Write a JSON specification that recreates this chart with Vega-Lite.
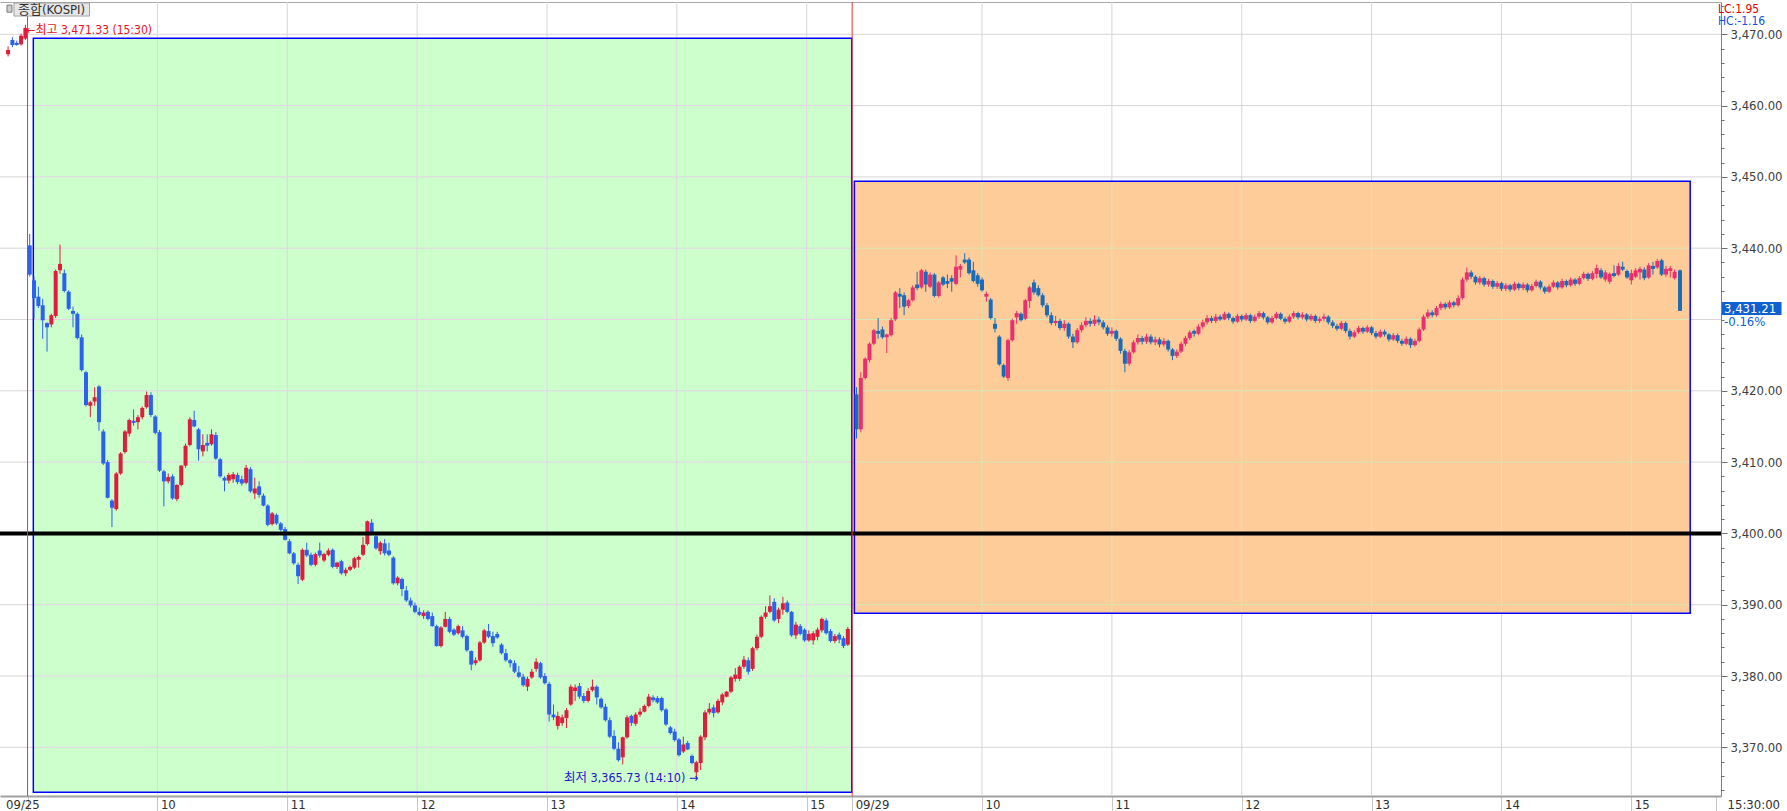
{
  "$schema": "https://vega.github.io/schema/vega-lite/v6.json",
  "width": 1721,
  "height": 794,
  "autosize": {"type": "none"},
  "padding": {"left": 0, "top": 2, "right": 66, "bottom": 15},
  "background": "#ffffff",
  "config": {"view": {"stroke": null}},
  "datasets": {
    "candles": [
      {"t":-9,"o":3467.2,"h":3468.3,"l":3466.9,"c":3467.8},
      {"t":-7,"o":3469.2,"h":3469.6,"l":3468.2,"c":3468.5},
      {"t":-5,"o":3468.8,"h":3469.1,"l":3468.4,"c":3468.5},
      {"t":-3,"o":3468.6,"h":3470.1,"l":3468.4,"c":3469.8},
      {"t":-1,"o":3469.4,"h":3471.33,"l":3469.2,"c":3470.9},
      {"t":1,"o":3440.4,"h":3442.0,"l":3436.0,"c":3436.3},
      {"t":3,"o":3435.5,"h":3436.0,"l":3430.1,"c":3433.0},
      {"t":5,"o":3433.2,"h":3434.6,"l":3431.6,"c":3431.9},
      {"t":7,"o":3432.0,"h":3432.9,"l":3427.3,"c":3429.9},
      {"t":9,"o":3429.5,"h":3429.6,"l":3425.5,"c":3428.9},
      {"t":11,"o":3429.3,"h":3430.8,"l":3428.9,"c":3430.6},
      {"t":13,"o":3430.5,"h":3437.0,"l":3430.2,"c":3436.8},
      {"t":15,"o":3436.9,"h":3440.5,"l":3436.4,"c":3437.8},
      {"t":17,"o":3436.5,"h":3437.0,"l":3433.8,"c":3434.0},
      {"t":19,"o":3433.9,"h":3434.1,"l":3431.3,"c":3431.5},
      {"t":21,"o":3431.2,"h":3431.8,"l":3428.9,"c":3430.8},
      {"t":23,"o":3430.8,"h":3431.0,"l":3427.2,"c":3427.4},
      {"t":25,"o":3427.5,"h":3427.9,"l":3422.7,"c":3422.9},
      {"t":27,"o":3422.6,"h":3422.8,"l":3417.8,"c":3418.0},
      {"t":29,"o":3417.9,"h":3418.6,"l":3416.3,"c":3418.4},
      {"t":31,"o":3418.5,"h":3420.5,"l":3417.9,"c":3419.1},
      {"t":33,"o":3420.6,"h":3420.8,"l":3414.4,"c":3415.6},
      {"t":35,"o":3414.3,"h":3414.6,"l":3409.6,"c":3409.8},
      {"t":37,"o":3410.0,"h":3410.3,"l":3404.9,"c":3405.0},
      {"t":39,"o":3404.6,"h":3404.8,"l":3400.9,"c":3403.6},
      {"t":41,"o":3403.4,"h":3408.6,"l":3403.2,"c":3408.4},
      {"t":43,"o":3408.4,"h":3411.4,"l":3408.2,"c":3411.2},
      {"t":45,"o":3411.4,"h":3414.5,"l":3411.2,"c":3414.3},
      {"t":47,"o":3414.0,"h":3416.1,"l":3413.6,"c":3415.9},
      {"t":49,"o":3415.8,"h":3417.4,"l":3415.1,"c":3415.5},
      {"t":51,"o":3415.6,"h":3416.6,"l":3414.6,"c":3416.3},
      {"t":53,"o":3416.3,"h":3417.8,"l":3416.0,"c":3417.6},
      {"t":55,"o":3417.7,"h":3419.9,"l":3417.5,"c":3419.4},
      {"t":57,"o":3419.4,"h":3419.8,"l":3416.3,"c":3416.6},
      {"t":59,"o":3416.4,"h":3416.6,"l":3413.9,"c":3414.1},
      {"t":61,"o":3414.2,"h":3414.5,"l":3408.6,"c":3408.8},
      {"t":63,"o":3408.7,"h":3408.9,"l":3403.8,"c":3407.3},
      {"t":65,"o":3407.3,"h":3408.4,"l":3407.0,"c":3407.9},
      {"t":67,"o":3408.0,"h":3408.3,"l":3404.7,"c":3404.9},
      {"t":69,"o":3404.8,"h":3406.9,"l":3404.5,"c":3406.8},
      {"t":71,"o":3406.8,"h":3409.6,"l":3406.6,"c":3409.5},
      {"t":73,"o":3409.5,"h":3412.6,"l":3409.2,"c":3412.3},
      {"t":75,"o":3412.4,"h":3416.3,"l":3412.2,"c":3416.0},
      {"t":77,"o":3415.9,"h":3417.2,"l":3414.9,"c":3415.0},
      {"t":79,"o":3414.6,"h":3414.8,"l":3410.2,"c":3411.8},
      {"t":81,"o":3411.5,"h":3413.9,"l":3410.8,"c":3412.4},
      {"t":83,"o":3412.7,"h":3413.9,"l":3411.5,"c":3412.3},
      {"t":85,"o":3412.5,"h":3414.6,"l":3412.3,"c":3413.9},
      {"t":87,"o":3413.8,"h":3414.2,"l":3410.3,"c":3410.5},
      {"t":89,"o":3410.4,"h":3410.6,"l":3407.8,"c":3408.0},
      {"t":91,"o":3407.8,"h":3408.0,"l":3405.9,"c":3407.4},
      {"t":93,"o":3407.4,"h":3408.5,"l":3407.0,"c":3408.2},
      {"t":95,"o":3407.6,"h":3408.6,"l":3407.1,"c":3408.3},
      {"t":97,"o":3408.2,"h":3408.5,"l":3406.9,"c":3407.2},
      {"t":99,"o":3407.6,"h":3408.1,"l":3406.7,"c":3407.0},
      {"t":101,"o":3407.1,"h":3409.6,"l":3406.9,"c":3409.2},
      {"t":103,"o":3409.0,"h":3409.3,"l":3405.7,"c":3405.9},
      {"t":105,"o":3405.6,"h":3407.8,"l":3404.8,"c":3406.3},
      {"t":107,"o":3406.6,"h":3407.3,"l":3405.0,"c":3405.4},
      {"t":109,"o":3405.3,"h":3405.6,"l":3403.8,"c":3403.9},
      {"t":111,"o":3403.9,"h":3404.1,"l":3401.0,"c":3401.2},
      {"t":113,"o":3401.3,"h":3403.0,"l":3401.1,"c":3402.8},
      {"t":115,"o":3402.6,"h":3402.8,"l":3401.2,"c":3401.4},
      {"t":117,"o":3401.4,"h":3401.6,"l":3400.3,"c":3400.5},
      {"t":119,"o":3400.6,"h":3400.9,"l":3399.0,"c":3399.1},
      {"t":121,"o":3398.9,"h":3399.2,"l":3397.1,"c":3397.2},
      {"t":123,"o":3397.2,"h":3397.4,"l":3395.6,"c":3395.8},
      {"t":125,"o":3395.6,"h":3395.9,"l":3392.9,"c":3394.0},
      {"t":127,"o":3393.5,"h":3397.9,"l":3393.3,"c":3397.7},
      {"t":129,"o":3397.7,"h":3398.7,"l":3396.7,"c":3396.9},
      {"t":131,"o":3397.0,"h":3397.3,"l":3395.4,"c":3395.6},
      {"t":133,"o":3395.6,"h":3397.3,"l":3395.4,"c":3397.1},
      {"t":135,"o":3397.6,"h":3398.7,"l":3396.6,"c":3396.9},
      {"t":137,"o":3396.2,"h":3397.3,"l":3396.0,"c":3397.1},
      {"t":139,"o":3397.0,"h":3397.9,"l":3396.8,"c":3397.6},
      {"t":141,"o":3397.7,"h":3397.9,"l":3395.1,"c":3395.3},
      {"t":143,"o":3395.3,"h":3396.0,"l":3395.0,"c":3395.9},
      {"t":145,"o":3396.1,"h":3396.3,"l":3394.2,"c":3394.4},
      {"t":147,"o":3394.4,"h":3395.2,"l":3394.0,"c":3394.9},
      {"t":149,"o":3394.9,"h":3395.5,"l":3394.7,"c":3395.3},
      {"t":151,"o":3395.2,"h":3396.7,"l":3395.0,"c":3396.5},
      {"t":153,"o":3396.3,"h":3396.9,"l":3395.2,"c":3396.7},
      {"t":155,"o":3397.0,"h":3399.5,"l":3396.8,"c":3398.4},
      {"t":157,"o":3398.5,"h":3401.8,"l":3398.3,"c":3401.7},
      {"t":159,"o":3401.5,"h":3402.0,"l":3399.8,"c":3400.0},
      {"t":161,"o":3399.6,"h":3399.8,"l":3397.7,"c":3397.9},
      {"t":163,"o":3397.5,"h":3398.9,"l":3397.0,"c":3398.7},
      {"t":165,"o":3398.6,"h":3399.2,"l":3396.9,"c":3397.2},
      {"t":167,"o":3397.6,"h":3398.7,"l":3396.8,"c":3397.0},
      {"t":169,"o":3396.6,"h":3396.8,"l":3392.8,"c":3393.0},
      {"t":171,"o":3393.0,"h":3394.0,"l":3392.7,"c":3393.8},
      {"t":173,"o":3393.6,"h":3393.8,"l":3391.2,"c":3392.2},
      {"t":175,"o":3392.0,"h":3392.6,"l":3390.4,"c":3390.6},
      {"t":177,"o":3390.6,"h":3391.0,"l":3389.6,"c":3389.9},
      {"t":179,"o":3389.9,"h":3390.3,"l":3388.8,"c":3389.0},
      {"t":181,"o":3389.0,"h":3389.6,"l":3388.4,"c":3388.6},
      {"t":183,"o":3388.4,"h":3389.2,"l":3388.0,"c":3388.9},
      {"t":185,"o":3389.0,"h":3389.2,"l":3387.8,"c":3388.0},
      {"t":187,"o":3388.4,"h":3388.9,"l":3386.9,"c":3387.0},
      {"t":189,"o":3387.0,"h":3387.2,"l":3384.1,"c":3384.2},
      {"t":191,"o":3384.2,"h":3387.0,"l":3384.0,"c":3386.8},
      {"t":193,"o":3386.9,"h":3389.0,"l":3386.8,"c":3388.0},
      {"t":195,"o":3388.0,"h":3388.3,"l":3386.0,"c":3386.2},
      {"t":197,"o":3386.5,"h":3386.7,"l":3385.6,"c":3385.8},
      {"t":199,"o":3386.0,"h":3387.2,"l":3385.8,"c":3387.0},
      {"t":201,"o":3386.4,"h":3387.0,"l":3385.3,"c":3385.5},
      {"t":203,"o":3385.6,"h":3385.8,"l":3383.4,"c":3383.6},
      {"t":205,"o":3383.5,"h":3383.6,"l":3380.8,"c":3381.6},
      {"t":207,"o":3381.8,"h":3382.6,"l":3381.5,"c":3382.2},
      {"t":209,"o":3382.2,"h":3384.9,"l":3382.0,"c":3384.7},
      {"t":211,"o":3384.7,"h":3386.6,"l":3384.5,"c":3386.4},
      {"t":213,"o":3386.3,"h":3387.3,"l":3385.3,"c":3385.5},
      {"t":215,"o":3385.6,"h":3386.2,"l":3384.1,"c":3384.6},
      {"t":217,"o":3385.9,"h":3386.2,"l":3385.2,"c":3385.4},
      {"t":219,"o":3384.4,"h":3384.6,"l":3383.0,"c":3383.2},
      {"t":221,"o":3383.2,"h":3383.8,"l":3382.0,"c":3382.2},
      {"t":223,"o":3382.2,"h":3382.4,"l":3381.2,"c":3381.8},
      {"t":225,"o":3381.8,"h":3382.2,"l":3380.4,"c":3380.6},
      {"t":227,"o":3380.5,"h":3381.4,"l":3379.7,"c":3379.9},
      {"t":229,"o":3379.9,"h":3380.3,"l":3378.5,"c":3378.7},
      {"t":231,"o":3378.5,"h":3379.9,"l":3377.9,"c":3379.6},
      {"t":233,"o":3379.8,"h":3381.0,"l":3379.6,"c":3380.6},
      {"t":235,"o":3381.0,"h":3382.5,"l":3380.6,"c":3382.0},
      {"t":237,"o":3381.8,"h":3382.0,"l":3379.6,"c":3379.8},
      {"t":239,"o":3380.0,"h":3380.4,"l":3378.8,"c":3379.0},
      {"t":241,"o":3378.9,"h":3379.2,"l":3373.6,"c":3374.6},
      {"t":243,"o":3374.6,"h":3376.0,"l":3373.8,"c":3374.2},
      {"t":245,"o":3373.0,"h":3375.0,"l":3372.5,"c":3374.4},
      {"t":247,"o":3373.4,"h":3374.6,"l":3373.0,"c":3374.2},
      {"t":249,"o":3374.1,"h":3375.5,"l":3372.7,"c":3375.2},
      {"t":251,"o":3376.0,"h":3378.8,"l":3375.8,"c":3378.5},
      {"t":253,"o":3377.9,"h":3378.8,"l":3376.5,"c":3378.4},
      {"t":255,"o":3378.6,"h":3379.0,"l":3376.8,"c":3377.1},
      {"t":257,"o":3377.2,"h":3377.6,"l":3376.2,"c":3376.5},
      {"t":259,"o":3376.5,"h":3378.3,"l":3376.3,"c":3377.9},
      {"t":261,"o":3378.0,"h":3379.5,"l":3377.8,"c":3378.5},
      {"t":263,"o":3378.5,"h":3378.7,"l":3376.0,"c":3377.0},
      {"t":265,"o":3376.8,"h":3377.0,"l":3375.4,"c":3375.6},
      {"t":267,"o":3375.7,"h":3376.1,"l":3373.6,"c":3373.8},
      {"t":269,"o":3373.8,"h":3374.2,"l":3371.3,"c":3371.5},
      {"t":271,"o":3371.6,"h":3372.4,"l":3369.6,"c":3369.8},
      {"t":273,"o":3369.8,"h":3370.7,"l":3368.0,"c":3368.2},
      {"t":275,"o":3368.6,"h":3371.5,"l":3367.6,"c":3371.4},
      {"t":277,"o":3371.4,"h":3374.5,"l":3371.2,"c":3374.2},
      {"t":279,"o":3374.4,"h":3374.6,"l":3373.0,"c":3373.4},
      {"t":281,"o":3373.3,"h":3374.9,"l":3373.0,"c":3374.6},
      {"t":283,"o":3374.6,"h":3375.5,"l":3374.3,"c":3375.0},
      {"t":285,"o":3375.0,"h":3376.0,"l":3374.9,"c":3375.8},
      {"t":287,"o":3375.8,"h":3377.5,"l":3375.6,"c":3377.1},
      {"t":289,"o":3377.0,"h":3377.3,"l":3376.3,"c":3376.6},
      {"t":291,"o":3376.9,"h":3377.2,"l":3376.1,"c":3376.3},
      {"t":293,"o":3376.9,"h":3377.1,"l":3375.0,"c":3375.2},
      {"t":295,"o":3375.3,"h":3375.5,"l":3373.0,"c":3373.2},
      {"t":297,"o":3372.8,"h":3373.0,"l":3371.8,"c":3372.0},
      {"t":299,"o":3372.2,"h":3372.6,"l":3370.8,"c":3371.0},
      {"t":301,"o":3371.1,"h":3371.3,"l":3368.7,"c":3368.9},
      {"t":303,"o":3369.4,"h":3371.5,"l":3369.2,"c":3370.4},
      {"t":305,"o":3370.6,"h":3370.9,"l":3369.6,"c":3369.7},
      {"t":307,"o":3368.8,"h":3369.0,"l":3367.6,"c":3367.8},
      {"t":309,"o":3366.5,"h":3368.1,"l":3365.73,"c":3367.9},
      {"t":311,"o":3367.8,"h":3371.7,"l":3366.8,"c":3371.5},
      {"t":313,"o":3371.4,"h":3375.2,"l":3371.0,"c":3374.9},
      {"t":315,"o":3374.9,"h":3376.2,"l":3374.6,"c":3375.4},
      {"t":317,"o":3375.6,"h":3376.0,"l":3374.2,"c":3374.8},
      {"t":319,"o":3374.9,"h":3376.8,"l":3374.7,"c":3376.5},
      {"t":321,"o":3376.3,"h":3377.6,"l":3375.9,"c":3377.4},
      {"t":323,"o":3377.1,"h":3377.9,"l":3377.0,"c":3377.8},
      {"t":325,"o":3377.8,"h":3380.0,"l":3377.6,"c":3379.8},
      {"t":327,"o":3379.6,"h":3381.1,"l":3379.2,"c":3380.2},
      {"t":329,"o":3379.6,"h":3381.5,"l":3379.3,"c":3381.3},
      {"t":331,"o":3381.3,"h":3382.8,"l":3381.0,"c":3382.3},
      {"t":333,"o":3382.2,"h":3382.6,"l":3380.2,"c":3380.6},
      {"t":335,"o":3381.0,"h":3384.1,"l":3380.7,"c":3383.9},
      {"t":337,"o":3383.9,"h":3385.8,"l":3383.6,"c":3385.5},
      {"t":339,"o":3385.5,"h":3388.5,"l":3385.3,"c":3388.3},
      {"t":341,"o":3388.3,"h":3389.8,"l":3388.0,"c":3388.9},
      {"t":343,"o":3389.0,"h":3391.3,"l":3388.8,"c":3389.8},
      {"t":345,"o":3390.4,"h":3390.9,"l":3387.6,"c":3387.8},
      {"t":347,"o":3388.0,"h":3389.6,"l":3387.4,"c":3389.3},
      {"t":349,"o":3389.3,"h":3391.1,"l":3388.6,"c":3390.2},
      {"t":351,"o":3390.3,"h":3390.6,"l":3388.8,"c":3389.0},
      {"t":353,"o":3389.0,"h":3389.1,"l":3385.5,"c":3385.7},
      {"t":355,"o":3385.7,"h":3387.6,"l":3385.2,"c":3387.2},
      {"t":357,"o":3387.0,"h":3387.3,"l":3385.7,"c":3385.9},
      {"t":359,"o":3386.5,"h":3386.7,"l":3384.8,"c":3385.0},
      {"t":361,"o":3385.0,"h":3386.4,"l":3384.8,"c":3385.9},
      {"t":363,"o":3385.0,"h":3386.3,"l":3384.4,"c":3386.0},
      {"t":365,"o":3385.5,"h":3386.8,"l":3385.0,"c":3386.5},
      {"t":367,"o":3386.4,"h":3388.2,"l":3386.1,"c":3388.0},
      {"t":369,"o":3387.8,"h":3388.1,"l":3385.8,"c":3386.0},
      {"t":371,"o":3386.3,"h":3386.6,"l":3384.7,"c":3384.9},
      {"t":373,"o":3384.9,"h":3385.9,"l":3384.6,"c":3385.6},
      {"t":375,"o":3385.8,"h":3386.1,"l":3384.6,"c":3385.1},
      {"t":377,"o":3385.3,"h":3385.6,"l":3383.9,"c":3384.2},
      {"t":379,"o":3384.4,"h":3386.9,"l":3384.2,"c":3386.6},
      {"t":383,"o":3419.5,"h":3420.5,"l":3413.3,"c":3414.6},
      {"t":385,"o":3414.6,"h":3422.6,"l":3414.2,"c":3421.8},
      {"t":387,"o":3421.8,"h":3424.7,"l":3421.6,"c":3424.5},
      {"t":389,"o":3424.3,"h":3426.8,"l":3424.0,"c":3426.6},
      {"t":391,"o":3426.6,"h":3428.7,"l":3426.4,"c":3428.5},
      {"t":393,"o":3428.4,"h":3430.2,"l":3427.3,"c":3428.0},
      {"t":395,"o":3428.6,"h":3429.0,"l":3427.3,"c":3427.5},
      {"t":397,"o":3427.5,"h":3428.0,"l":3425.3,"c":3427.9},
      {"t":399,"o":3427.8,"h":3430.2,"l":3427.6,"c":3429.9},
      {"t":401,"o":3430.0,"h":3434.0,"l":3429.8,"c":3433.8},
      {"t":403,"o":3433.6,"h":3434.4,"l":3431.6,"c":3433.2},
      {"t":405,"o":3433.4,"h":3433.8,"l":3430.6,"c":3431.8},
      {"t":407,"o":3431.9,"h":3432.9,"l":3431.6,"c":3432.7},
      {"t":409,"o":3432.7,"h":3434.8,"l":3432.5,"c":3434.5},
      {"t":411,"o":3434.9,"h":3436.7,"l":3434.1,"c":3434.4},
      {"t":413,"o":3434.5,"h":3437.1,"l":3434.3,"c":3436.9},
      {"t":415,"o":3436.7,"h":3437.0,"l":3433.9,"c":3434.9},
      {"t":417,"o":3434.6,"h":3436.6,"l":3434.4,"c":3436.3},
      {"t":419,"o":3436.3,"h":3436.5,"l":3433.1,"c":3433.3},
      {"t":421,"o":3433.3,"h":3435.4,"l":3433.1,"c":3435.2},
      {"t":423,"o":3435.9,"h":3436.1,"l":3434.7,"c":3434.9},
      {"t":425,"o":3435.4,"h":3436.3,"l":3434.4,"c":3435.0},
      {"t":427,"o":3435.8,"h":3436.2,"l":3433.9,"c":3435.3},
      {"t":429,"o":3435.0,"h":3439.0,"l":3434.8,"c":3437.4},
      {"t":431,"o":3437.0,"h":3437.8,"l":3435.9,"c":3437.5},
      {"t":433,"o":3438.4,"h":3439.3,"l":3437.8,"c":3438.0},
      {"t":435,"o":3438.4,"h":3438.7,"l":3436.3,"c":3436.5},
      {"t":437,"o":3436.9,"h":3438.1,"l":3435.2,"c":3435.4},
      {"t":439,"o":3436.2,"h":3436.5,"l":3434.6,"c":3435.0},
      {"t":441,"o":3435.6,"h":3435.9,"l":3433.9,"c":3434.1},
      {"t":443,"o":3433.2,"h":3433.9,"l":3432.5,"c":3433.6},
      {"t":445,"o":3432.8,"h":3433.0,"l":3430.0,"c":3430.2},
      {"t":447,"o":3429.4,"h":3430.2,"l":3428.2,"c":3428.7},
      {"t":449,"o":3427.6,"h":3427.8,"l":3423.5,"c":3423.7},
      {"t":451,"o":3423.6,"h":3423.8,"l":3421.8,"c":3422.0},
      {"t":453,"o":3421.8,"h":3427.3,"l":3421.4,"c":3427.1},
      {"t":455,"o":3427.1,"h":3430.1,"l":3426.9,"c":3429.9},
      {"t":457,"o":3430.3,"h":3431.2,"l":3429.4,"c":3430.9},
      {"t":459,"o":3430.8,"h":3431.0,"l":3429.7,"c":3429.9},
      {"t":461,"o":3430.1,"h":3432.9,"l":3429.9,"c":3432.7},
      {"t":463,"o":3432.6,"h":3434.7,"l":3431.6,"c":3434.5},
      {"t":465,"o":3435.2,"h":3435.6,"l":3433.5,"c":3433.8},
      {"t":467,"o":3434.4,"h":3434.8,"l":3433.2,"c":3433.4},
      {"t":469,"o":3433.4,"h":3433.7,"l":3431.7,"c":3432.0},
      {"t":471,"o":3432.0,"h":3432.3,"l":3430.3,"c":3430.6},
      {"t":473,"o":3430.6,"h":3431.0,"l":3429.2,"c":3429.5},
      {"t":475,"o":3429.5,"h":3430.5,"l":3429.1,"c":3429.8},
      {"t":477,"o":3429.8,"h":3430.1,"l":3428.5,"c":3428.8},
      {"t":479,"o":3428.8,"h":3429.9,"l":3428.4,"c":3429.4},
      {"t":481,"o":3429.4,"h":3429.6,"l":3427.3,"c":3427.6},
      {"t":483,"o":3427.6,"h":3428.0,"l":3426.0,"c":3426.8},
      {"t":485,"o":3426.8,"h":3428.8,"l":3426.6,"c":3428.5},
      {"t":487,"o":3428.5,"h":3429.6,"l":3428.2,"c":3429.2},
      {"t":489,"o":3429.2,"h":3430.3,"l":3428.9,"c":3429.8},
      {"t":491,"o":3429.8,"h":3430.2,"l":3429.0,"c":3429.4},
      {"t":493,"o":3429.4,"h":3430.6,"l":3429.1,"c":3430.0},
      {"t":495,"o":3430.0,"h":3430.4,"l":3429.2,"c":3429.6},
      {"t":497,"o":3429.6,"h":3429.9,"l":3428.6,"c":3428.9},
      {"t":499,"o":3428.9,"h":3429.2,"l":3427.7,"c":3428.0},
      {"t":501,"o":3428.0,"h":3428.9,"l":3427.6,"c":3428.4},
      {"t":503,"o":3428.4,"h":3428.6,"l":3427.0,"c":3427.3},
      {"t":505,"o":3427.3,"h":3427.5,"l":3425.2,"c":3425.6},
      {"t":507,"o":3425.6,"h":3425.9,"l":3422.6,"c":3423.8},
      {"t":509,"o":3423.8,"h":3425.7,"l":3423.5,"c":3425.4},
      {"t":511,"o":3425.4,"h":3427.1,"l":3425.2,"c":3426.8},
      {"t":513,"o":3426.8,"h":3427.9,"l":3426.5,"c":3427.4},
      {"t":515,"o":3427.4,"h":3427.7,"l":3426.5,"c":3426.9},
      {"t":517,"o":3426.9,"h":3428.0,"l":3426.6,"c":3427.6},
      {"t":519,"o":3427.6,"h":3427.9,"l":3426.5,"c":3426.8},
      {"t":521,"o":3426.8,"h":3427.6,"l":3426.4,"c":3427.2},
      {"t":523,"o":3427.2,"h":3427.5,"l":3426.1,"c":3426.5},
      {"t":525,"o":3426.5,"h":3427.4,"l":3426.2,"c":3427.0},
      {"t":527,"o":3427.0,"h":3427.2,"l":3425.5,"c":3425.8},
      {"t":529,"o":3425.8,"h":3426.0,"l":3424.3,"c":3424.9},
      {"t":531,"o":3424.9,"h":3425.8,"l":3424.6,"c":3425.5},
      {"t":533,"o":3425.5,"h":3426.9,"l":3425.3,"c":3426.6},
      {"t":535,"o":3426.6,"h":3427.7,"l":3426.3,"c":3427.4},
      {"t":537,"o":3427.4,"h":3428.5,"l":3427.1,"c":3428.2},
      {"t":539,"o":3428.4,"h":3428.6,"l":3427.6,"c":3428.0},
      {"t":541,"o":3428.0,"h":3429.3,"l":3427.8,"c":3429.0},
      {"t":543,"o":3429.0,"h":3430.0,"l":3428.7,"c":3429.6},
      {"t":545,"o":3429.6,"h":3430.6,"l":3429.3,"c":3430.2},
      {"t":547,"o":3430.2,"h":3430.5,"l":3429.5,"c":3429.8},
      {"t":549,"o":3429.8,"h":3430.8,"l":3429.5,"c":3430.4},
      {"t":551,"o":3430.4,"h":3430.7,"l":3429.8,"c":3430.0},
      {"t":553,"o":3430.0,"h":3431.1,"l":3429.9,"c":3430.8},
      {"t":555,"o":3430.8,"h":3431.0,"l":3429.9,"c":3430.2},
      {"t":557,"o":3430.2,"h":3430.4,"l":3429.4,"c":3429.7},
      {"t":559,"o":3429.7,"h":3430.8,"l":3429.5,"c":3430.5},
      {"t":561,"o":3430.5,"h":3430.7,"l":3429.7,"c":3430.0},
      {"t":563,"o":3430.0,"h":3430.9,"l":3429.8,"c":3430.6},
      {"t":565,"o":3430.6,"h":3430.8,"l":3429.5,"c":3429.8},
      {"t":567,"o":3429.8,"h":3430.7,"l":3429.6,"c":3430.4},
      {"t":569,"o":3430.4,"h":3431.2,"l":3430.1,"c":3430.9},
      {"t":571,"o":3430.9,"h":3431.1,"l":3430.0,"c":3430.3},
      {"t":573,"o":3430.3,"h":3430.5,"l":3429.3,"c":3429.6},
      {"t":575,"o":3429.6,"h":3430.5,"l":3429.4,"c":3430.2},
      {"t":577,"o":3430.2,"h":3431.1,"l":3430.0,"c":3430.8},
      {"t":579,"o":3430.8,"h":3431.0,"l":3429.9,"c":3430.1},
      {"t":581,"o":3430.1,"h":3430.4,"l":3429.4,"c":3429.7},
      {"t":583,"o":3429.7,"h":3430.7,"l":3429.5,"c":3430.4},
      {"t":585,"o":3430.4,"h":3431.2,"l":3430.1,"c":3430.9},
      {"t":587,"o":3430.9,"h":3431.1,"l":3430.0,"c":3430.3},
      {"t":589,"o":3430.3,"h":3431.0,"l":3430.0,"c":3430.7},
      {"t":591,"o":3430.7,"h":3430.9,"l":3429.7,"c":3430.0},
      {"t":593,"o":3430.0,"h":3430.8,"l":3429.8,"c":3430.5},
      {"t":595,"o":3430.5,"h":3430.7,"l":3429.5,"c":3429.8},
      {"t":597,"o":3429.8,"h":3430.4,"l":3429.5,"c":3430.1},
      {"t":599,"o":3430.1,"h":3430.8,"l":3429.8,"c":3430.4},
      {"t":601,"o":3430.4,"h":3430.6,"l":3429.3,"c":3429.6},
      {"t":603,"o":3429.6,"h":3429.9,"l":3428.8,"c":3429.1},
      {"t":605,"o":3429.1,"h":3429.4,"l":3428.4,"c":3428.7},
      {"t":607,"o":3428.7,"h":3429.8,"l":3428.5,"c":3429.5},
      {"t":609,"o":3429.5,"h":3429.7,"l":3428.1,"c":3428.4},
      {"t":611,"o":3428.4,"h":3428.7,"l":3427.2,"c":3427.6},
      {"t":613,"o":3427.6,"h":3428.5,"l":3427.4,"c":3428.2},
      {"t":615,"o":3428.2,"h":3429.1,"l":3428.0,"c":3428.8},
      {"t":617,"o":3428.8,"h":3429.0,"l":3428.0,"c":3428.3},
      {"t":619,"o":3428.3,"h":3429.2,"l":3428.1,"c":3428.9},
      {"t":621,"o":3428.9,"h":3429.1,"l":3427.8,"c":3428.1},
      {"t":623,"o":3428.1,"h":3428.4,"l":3427.3,"c":3427.6},
      {"t":625,"o":3427.6,"h":3428.6,"l":3427.4,"c":3428.3},
      {"t":627,"o":3428.3,"h":3428.6,"l":3427.6,"c":3427.9},
      {"t":629,"o":3427.9,"h":3428.1,"l":3426.9,"c":3427.2},
      {"t":631,"o":3427.2,"h":3428.1,"l":3427.0,"c":3427.8},
      {"t":633,"o":3427.8,"h":3428.0,"l":3426.7,"c":3427.0},
      {"t":635,"o":3427.0,"h":3427.3,"l":3426.3,"c":3426.6},
      {"t":637,"o":3426.6,"h":3427.6,"l":3426.4,"c":3427.3},
      {"t":639,"o":3427.3,"h":3427.5,"l":3426.0,"c":3426.4},
      {"t":641,"o":3426.4,"h":3427.3,"l":3426.2,"c":3427.0},
      {"t":643,"o":3427.0,"h":3428.9,"l":3426.8,"c":3428.6},
      {"t":645,"o":3428.6,"h":3430.7,"l":3428.4,"c":3430.4},
      {"t":647,"o":3430.4,"h":3431.4,"l":3430.1,"c":3431.0},
      {"t":649,"o":3431.0,"h":3431.3,"l":3430.3,"c":3430.6},
      {"t":651,"o":3430.6,"h":3431.9,"l":3430.4,"c":3431.6},
      {"t":653,"o":3431.6,"h":3432.5,"l":3431.3,"c":3432.2},
      {"t":655,"o":3432.2,"h":3432.4,"l":3431.4,"c":3431.7},
      {"t":657,"o":3431.7,"h":3432.7,"l":3431.5,"c":3432.4},
      {"t":659,"o":3432.4,"h":3432.6,"l":3431.7,"c":3432.0},
      {"t":661,"o":3432.0,"h":3433.4,"l":3431.8,"c":3433.0},
      {"t":663,"o":3433.0,"h":3435.9,"l":3432.8,"c":3435.6},
      {"t":665,"o":3435.6,"h":3437.3,"l":3435.3,"c":3436.6},
      {"t":667,"o":3436.6,"h":3436.9,"l":3435.7,"c":3436.0},
      {"t":669,"o":3436.0,"h":3436.2,"l":3434.9,"c":3435.2},
      {"t":671,"o":3435.2,"h":3436.1,"l":3434.9,"c":3435.8},
      {"t":673,"o":3435.8,"h":3436.0,"l":3434.6,"c":3434.9},
      {"t":675,"o":3434.9,"h":3435.7,"l":3434.6,"c":3435.4},
      {"t":677,"o":3435.4,"h":3435.6,"l":3434.3,"c":3434.6},
      {"t":679,"o":3434.6,"h":3435.4,"l":3434.3,"c":3435.1},
      {"t":681,"o":3435.1,"h":3435.3,"l":3434.0,"c":3434.3},
      {"t":683,"o":3434.3,"h":3435.1,"l":3434.0,"c":3434.8},
      {"t":685,"o":3434.8,"h":3435.0,"l":3433.9,"c":3434.2},
      {"t":687,"o":3434.2,"h":3435.3,"l":3434.0,"c":3435.0},
      {"t":689,"o":3435.0,"h":3435.2,"l":3434.1,"c":3434.4},
      {"t":691,"o":3434.4,"h":3435.2,"l":3434.1,"c":3434.9},
      {"t":693,"o":3434.9,"h":3435.1,"l":3433.8,"c":3434.1},
      {"t":695,"o":3434.1,"h":3435.0,"l":3433.9,"c":3434.7},
      {"t":697,"o":3434.7,"h":3435.6,"l":3434.5,"c":3435.3},
      {"t":699,"o":3435.3,"h":3435.5,"l":3434.2,"c":3434.5},
      {"t":701,"o":3434.5,"h":3434.7,"l":3433.6,"c":3433.9},
      {"t":703,"o":3433.9,"h":3434.9,"l":3433.7,"c":3434.6},
      {"t":705,"o":3434.6,"h":3435.5,"l":3434.4,"c":3435.2},
      {"t":707,"o":3435.2,"h":3435.4,"l":3434.2,"c":3434.5},
      {"t":709,"o":3434.5,"h":3435.7,"l":3434.3,"c":3435.4},
      {"t":711,"o":3435.4,"h":3435.6,"l":3434.5,"c":3434.8},
      {"t":713,"o":3434.8,"h":3435.9,"l":3434.6,"c":3435.6},
      {"t":715,"o":3435.6,"h":3435.8,"l":3434.7,"c":3435.0},
      {"t":717,"o":3435.0,"h":3436.1,"l":3434.8,"c":3435.8},
      {"t":719,"o":3435.8,"h":3436.7,"l":3435.6,"c":3436.4},
      {"t":721,"o":3436.4,"h":3436.6,"l":3435.4,"c":3435.7},
      {"t":723,"o":3435.7,"h":3436.8,"l":3435.5,"c":3436.5},
      {"t":725,"o":3436.4,"h":3437.7,"l":3435.8,"c":3437.2},
      {"t":727,"o":3436.9,"h":3437.2,"l":3435.7,"c":3435.9},
      {"t":729,"o":3435.6,"h":3436.9,"l":3435.3,"c":3436.6},
      {"t":731,"o":3435.3,"h":3436.6,"l":3435.0,"c":3436.4},
      {"t":733,"o":3436.5,"h":3437.6,"l":3435.9,"c":3436.1},
      {"t":735,"o":3436.3,"h":3437.9,"l":3436.1,"c":3437.5},
      {"t":737,"o":3437.4,"h":3438.1,"l":3436.8,"c":3437.0},
      {"t":739,"o":3436.8,"h":3437.0,"l":3435.7,"c":3435.9},
      {"t":741,"o":3435.5,"h":3437.0,"l":3434.9,"c":3436.5},
      {"t":743,"o":3436.0,"h":3437.2,"l":3435.8,"c":3436.9},
      {"t":745,"o":3436.6,"h":3437.4,"l":3435.6,"c":3437.1},
      {"t":747,"o":3437.0,"h":3437.3,"l":3435.5,"c":3435.8},
      {"t":749,"o":3435.9,"h":3437.9,"l":3435.7,"c":3437.6},
      {"t":751,"o":3437.5,"h":3438.1,"l":3436.3,"c":3437.1},
      {"t":753,"o":3437.3,"h":3438.5,"l":3437.1,"c":3438.2},
      {"t":755,"o":3438.3,"h":3438.5,"l":3436.1,"c":3436.3},
      {"t":757,"o":3436.3,"h":3437.5,"l":3436.0,"c":3437.1},
      {"t":759,"o":3436.8,"h":3437.5,"l":3435.9,"c":3437.2},
      {"t":761,"o":3435.8,"h":3437.0,"l":3435.6,"c":3436.7},
      {"t":763.5,"o":3436.9,"h":3437.0,"l":3431.21,"c":3431.21}
    ],
    "zones": [
      {"day": "09/25", "x1": 2.67, "x2": 380.8, "lo": 3363.69, "hi": 3469.44},
      {"day": "09/29", "x1": 382.0, "x2": 768.2, "lo": 3388.8, "hi": 3449.4}
    ],
    "levels": [
      {"v": 3370}, {"v": 3380}, {"v": 3390}, {"v": 3400}, {"v": 3410}, {"v": 3420},
      {"v": 3430}, {"v": 3440}, {"v": 3450}, {"v": 3460}, {"v": 3470}
    ],
    "hours": [
      {"m": 60}, {"m": 120}, {"m": 180}, {"m": 240}, {"m": 300}, {"m": 360},
      {"m": 441}, {"m": 501}, {"m": 561}, {"m": 621}, {"m": 681}, {"m": 741}
    ],
    "sessions": [{"m": 0}, {"m": 381}],
    "one": [{}]
  },
  "resolve": {"axis": {"x": "independent", "y": "independent"}},
  "layer": [
    {
      "data": {"name": "levels"},
      "mark": {"type": "rule", "color": "#d6d6d6", "strokeWidth": 1},
      "encoding": {
        "y": {"field": "v", "type": "quantitative",
              "scale": {"domain": [3363.17, 3474.53], "zero": false, "nice": false},
              "axis": {
                "orient": "right",
                "values": [3370, 3380, 3390, 3400, 3410, 3420, 3440, 3450, 3460, 3470],
                "format": ",.2f",
                "tickSize": 6, "tickColor": "#707070",
                "domain": true, "domainColor": "#808080", "grid": false,
                "labelFont": "DejaVu Sans Condensed, DejaVu Sans, sans-serif",
                "labelFontSize": 13, "labelColor": "#404040", "labelPadding": 3,
                "labelBaseline": "middle",
                "labelOverlap": false, "labelBound": false, "labelFlush": false,
                "title": null
              }}
      }
    },
    {
      "data": {"name": "hours"},
      "mark": {"type": "rule", "color": "#d6d6d6", "strokeWidth": 1},
      "encoding": {
        "x": {"field": "m", "type": "quantitative", "axis": null,
              "scale": {"domain": [-10.418, 780.12], "zero": false, "nice": false}}
      }
    },
    {
      "data": {"name": "zones"},
      "mark": {"type": "rect", "strokeWidth": 0},
      "encoding": {
        "x": {"field": "x1", "type": "quantitative", "axis": null},
        "x2": {"field": "x2"},
        "y": {"field": "lo", "type": "quantitative", "axis": null},
        "y2": {"field": "hi"},
        "color": {"field": "day", "type": "nominal", "legend": null,
                  "scale": {"domain": ["09/25", "09/29"], "range": ["#ccffcc", "#fdcc99"]}}
      }
    },
    {
      "data": {"name": "levels"},
      "transform": [{"filter": "datum.v <= 3460"}],
      "mark": {"type": "rule", "color": "#e6d2e8", "strokeWidth": 1},
      "encoding": {
        "y": {"field": "v", "type": "quantitative",
              "axis": {
                "orient": "right",
                "values": [3364, 3366, 3368, 3372, 3374, 3376, 3378, 3382, 3384, 3386, 3388, 3392, 3394, 3396, 3398, 3402, 3404, 3406, 3408, 3412, 3414, 3416, 3418, 3422, 3424, 3426, 3428, 3430, 3432, 3434, 3436, 3438, 3442, 3444, 3446, 3448, 3452, 3454, 3456, 3458, 3462, 3464, 3466, 3468, 3472, 3474],
                "labels": false, "domain": false, "grid": false,
                "tickSize": 3, "tickColor": "#707070", "title": null
              }},
        "x": {"datum": 2.67, "type": "quantitative", "axis": null},
        "x2": {"datum": 380.8}
      }
    },
    {
      "data": {"name": "hours"},
      "transform": [{"filter": "datum.m < 381"}],
      "mark": {"type": "rule", "color": "#e6d2e8", "strokeWidth": 1},
      "encoding": {
        "x": {"field": "m", "type": "quantitative", "axis": null},
        "y": {"datum": 3363.69, "type": "quantitative", "axis": null},
        "y2": {"datum": 3469.44}
      }
    },
    {
      "data": {"name": "levels"},
      "transform": [{"filter": "datum.v >= 3390 && datum.v <= 3440"}],
      "mark": {"type": "rule", "color": "#dae6b6", "strokeWidth": 1},
      "encoding": {
        "y": {"field": "v", "type": "quantitative", "axis": null},
        "x": {"datum": 382.0, "type": "quantitative", "axis": null},
        "x2": {"datum": 768.2}
      }
    },
    {
      "data": {"name": "hours"},
      "transform": [{"filter": "datum.m > 381"}],
      "mark": {"type": "rule", "color": "#dae6b6", "strokeWidth": 1},
      "encoding": {
        "x": {"field": "m", "type": "quantitative", "axis": null},
        "y": {"datum": 3388.8, "type": "quantitative", "axis": null},
        "y2": {"datum": 3449.4}
      }
    },
    {
      "data": {"name": "zones"},
      "mark": {"type": "rect", "fill": null, "fillOpacity": 0, "stroke": "#0000ff", "strokeWidth": 1.5},
      "encoding": {
        "x": {"field": "x1", "type": "quantitative", "axis": null},
        "x2": {"field": "x2"},
        "y": {"field": "lo", "type": "quantitative", "axis": null},
        "y2": {"field": "hi"}
      }
    },
    {
      "data": {"name": "candles"},
      "encoding": {
        "x": {
          "field": "t", "type": "quantitative",
          "scale": {"domain": [-10.418, 780.12], "zero": false, "nice": false},
          "axis": {
            "orient": "bottom",
            "values": [0, 60, 120, 180, 240, 300, 360, 381, 441, 501, 561, 621, 681, 741, 780.12],
            "labelExpr": "datum.value === 0 ? '09/25' : datum.value === 381 ? '09/29' : datum.value > 780 ? '15:30:00' : format(datum.value < 381 ? 9 + datum.value / 60 : 9 + (datum.value - 381) / 60, 'd')",
            "grid": false,
            "domainColor": "#a0a0a0", "domainWidth": 2,
            "tickColor": "#c8c8c8", "tickSize": 15, "tickWidth": 1,
            "labelAlign": "left", "labelBaseline": "top", "labelPadding": -13,
            "labelOffset": {"condition": [
              {"test": "datum.value === 0", "value": -22},
              {"test": "datum.value > 780", "value": 11}
            ], "value": 3},
            "labelFont": "DejaVu Sans Condensed, DejaVu Sans, sans-serif",
            "labelFontSize": 13, "labelColor": "#303030",
            "labelOverlap": false, "labelBound": false, "labelFlush": false,
            "title": null
          }
        },
        "color": {
          "condition": [
            {"test": "datum.t < 381 && datum.c >= datum.o", "value": "#dc1e3c"},
            {"test": "datum.t < 381", "value": "#2a62ef"},
            {"test": "datum.c >= datum.o", "value": "#e8306e"}
          ],
          "value": "#1a6cb8"
        }
      },
      "layer": [
        {
          "mark": {"type": "rule", "strokeWidth": 1},
          "encoding": {
            "y": {"field": "l", "type": "quantitative", "axis": null},
            "y2": {"field": "h"}
          }
        },
        {
          "mark": {"type": "bar", "width": 4},
          "encoding": {
            "y": {"field": "o", "type": "quantitative", "axis": null},
            "y2": {"field": "c"}
          }
        }
      ]
    },
    {
      "data": {"name": "one"},
      "mark": {"type": "rule", "color": "#000000", "strokeWidth": 4},
      "encoding": {"y": {"datum": 3400, "type": "quantitative", "axis": null}}
    },
    {
      "data": {"name": "sessions"},
      "mark": {"type": "rule", "color": "#e03a3a", "strokeWidth": 1},
      "encoding": {
        "x": {
          "field": "m", "type": "quantitative",
          "axis": {"orient": "top", "domain": true, "domainColor": "#a8a8a8", "domainWidth": 1,
                   "ticks": false, "labels": false, "grid": false, "title": null}
        }
      }
    },
    {
      "data": {"name": "one"},
      "mark": {"type": "rect", "fill": "#e6e6e6", "stroke": "#a0a0a0", "strokeWidth": 1},
      "encoding": {
        "x": {"datum": -6.28, "type": "quantitative", "axis": null},
        "x2": {"datum": 28.63},
        "y": {"datum": 3474.39, "type": "quantitative", "axis": null},
        "y2": {"datum": 3472.56}
      }
    },
    {
      "data": {"name": "one"},
      "mark": {"type": "rect", "fill": "#cfcfcf", "stroke": "#7a7a7a", "strokeWidth": 1},
      "encoding": {
        "x": {"datum": -9.5, "type": "quantitative", "axis": null},
        "x2": {"datum": -7.2},
        "y": {"datum": 3474.1, "type": "quantitative", "axis": null},
        "y2": {"datum": 3473.1}
      }
    },
    {
      "data": {"name": "one"},
      "mark": {"type": "text", "align": "left", "baseline": "middle", "dx": 3,
               "font": "DejaVu Sans Condensed, Noto Sans CJK KR, sans-serif", "fontSize": 13, "color": "#303030"},
      "encoding": {
        "x": {"datum": -5.8, "type": "quantitative", "axis": null},
        "y": {"datum": 3473.47, "type": "quantitative", "axis": null},
        "text": {"value": "종합(KOSPI)"}
      }
    },
    {
      "data": {"name": "one"},
      "mark": {"type": "text", "align": "left", "baseline": "middle", "dx": 1, "dy": 5,
               "font": "DejaVu Sans Condensed, Noto Sans CJK KR, sans-serif", "fontSize": 12, "color": "#e8141e"},
      "encoding": {
        "x": {"datum": -1, "type": "quantitative", "axis": null},
        "y": {"datum": 3471.33, "type": "quantitative", "axis": null},
        "text": {"value": "←최고 3,471.33 (15:30)"}
      }
    },
    {
      "data": {"name": "one"},
      "mark": {"type": "text", "align": "right", "baseline": "middle", "dx": 2,
               "font": "DejaVu Sans Condensed, Noto Sans CJK KR, sans-serif", "fontSize": 12.5, "color": "#2814c8"},
      "encoding": {
        "x": {"datum": 309, "type": "quantitative", "axis": null},
        "y": {"datum": 3365.73, "type": "quantitative", "axis": null},
        "text": {"value": "최저 3,365.73 (14:10) →"}
      }
    },
    {
      "data": {"name": "one"},
      "mark": {"type": "text", "align": "left", "baseline": "middle", "dx": 2, "dy": 7,
               "font": "DejaVu Sans Condensed, DejaVu Sans, sans-serif", "fontSize": 12, "color": "#e00000"},
      "encoding": {
        "x": {"datum": 780.12, "type": "quantitative", "axis": null},
        "y": {"datum": 3474.53, "type": "quantitative", "axis": null},
        "text": {"value": "LC:1.95"}
      }
    },
    {
      "data": {"name": "one"},
      "mark": {"type": "text", "align": "left", "baseline": "middle", "dx": 2, "dy": 19,
               "font": "DejaVu Sans Condensed, DejaVu Sans, sans-serif", "fontSize": 12, "color": "#1050e0"},
      "encoding": {
        "x": {"datum": 780.12, "type": "quantitative", "axis": null},
        "y": {"datum": 3474.53, "type": "quantitative", "axis": null},
        "text": {"value": "HC:-1.16"}
      }
    },
    {
      "data": {"name": "one"},
      "mark": {"type": "rect", "fill": "#1060d0"},
      "encoding": {
        "x": {"datum": 782.9, "type": "quantitative", "axis": null},
        "x2": {"datum": 810.4},
        "y": {"datum": 3432.45, "type": "quantitative", "axis": null},
        "y2": {"datum": 3430.62}
      }
    },
    {
      "data": {"name": "one"},
      "mark": {"type": "text", "align": "left", "baseline": "middle", "dx": 2,
               "font": "DejaVu Sans Condensed, DejaVu Sans, sans-serif", "fontSize": 13, "color": "#ffffff"},
      "encoding": {
        "x": {"datum": 782.9, "type": "quantitative", "axis": null},
        "y": {"datum": 3431.54, "type": "quantitative", "axis": null},
        "text": {"value": "3,431.21"}
      }
    },
    {
      "data": {"name": "one"},
      "mark": {"type": "text", "align": "left", "baseline": "middle", "dx": 2, "dy": 11,
               "font": "DejaVu Sans Condensed, DejaVu Sans, sans-serif", "fontSize": 13, "color": "#1060d0"},
      "encoding": {
        "x": {"datum": 782.9, "type": "quantitative", "axis": null},
        "y": {"datum": 3431.21, "type": "quantitative", "axis": null},
        "text": {"value": "-0.16%"}
      }
    }
  ]
}
